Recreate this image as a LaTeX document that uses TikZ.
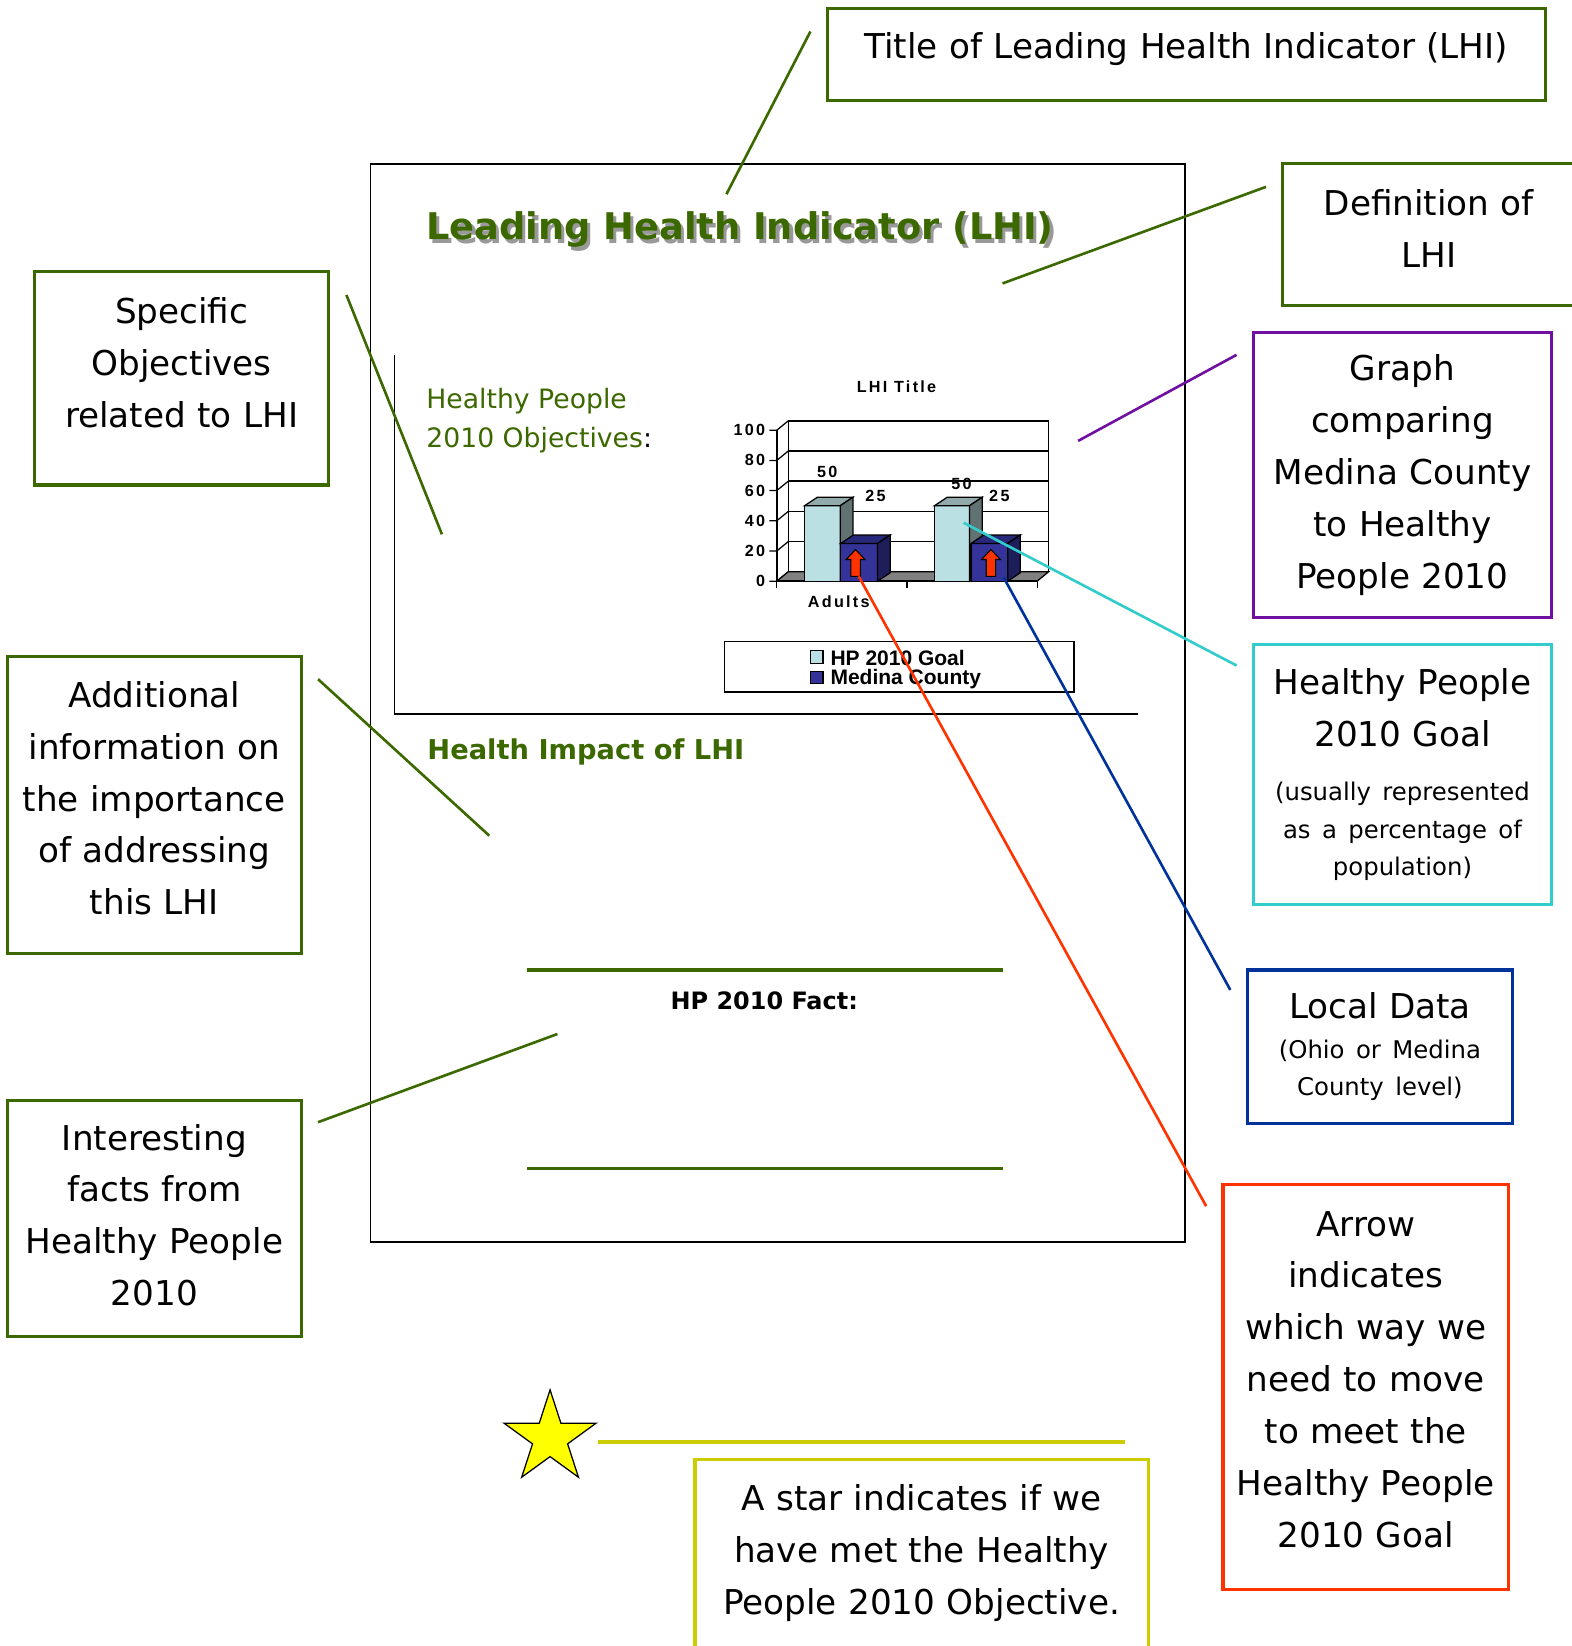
\documentclass[tikz,border=0pt]{standalone}
\usepackage{fontspec}
\setmainfont{DejaVu Sans}
\newfontfamily\chartfont[LetterSpace=14]{Liberation Sans}
\newfontfamily\legendfont{Liberation Sans}
\usetikzlibrary{shapes.geometric}

\definecolor{lhigreen}{RGB}{60,104,0}
\definecolor{lhipurple}{RGB}{112,16,160}
\definecolor{lhicyan}{RGB}{51,204,204}
\definecolor{lhiblue}{RGB}{0,51,153}
\definecolor{lhired}{RGB}{255,51,0}
\definecolor{lhiyellow}{RGB}{204,204,0}
\definecolor{staryellow}{RGB}{255,255,0}
\definecolor{hpfront}{RGB}{186,224,228}
\definecolor{hptop}{RGB}{146,170,170}
\definecolor{hpside}{RGB}{96,114,114}
\definecolor{mcfront}{RGB}{51,51,153}
\definecolor{mctop}{RGB}{40,40,122}
\definecolor{mcside}{RGB}{30,30,90}

\newcommand\bigf{\fontsize{32.6}{49.4}\selectfont}
\newcommand\smallf{\fontsize{23.2}{35.5}\selectfont}
\newcommand\titlef{\bfseries\fontsize{35}{42}\selectfont}
\newcommand\impactf{\bfseries\fontsize{26}{31}\selectfont}
\newcommand\objf{\fontsize{25.4}{37}\selectfont}
\newcommand\factf{\bfseries\fontsize{22.8}{27}\selectfont}
\newcommand\chartf{\chartfont\bfseries\fontsize{15.4}{18}\selectfont}
\newcommand\legf{\legendfont\bfseries\fontsize{20}{19}\selectfont}
\newcommand\lift[1]{\par\vspace{#1}\hrule height 0pt\relax}

\begin{document}
\begin{tikzpicture}[x=1pt,y=-1pt,
  box/.style={draw,line width=3pt,align=center,inner sep=0pt,font=\bigf},
  lead/.style={line width=2.5pt},
  txt/.style={inner sep=0pt},
  ctxt/.style={inner sep=0pt,font=\chartf},
  cline/.style={line width=1.2pt}]
\useasboundingbox (0,0) rectangle (1497,1568);

% the page
\node[draw,line width=1.5pt,minimum width=776pt,minimum height=1027pt,inner sep=0pt] (page) at (741,669.5) {};
\node[txt,font=\titlef,text=black!40] (ptitleshadow) at (708,222) {Leading Health Indicator (LHI)};
\node[txt,font=\titlef,text=lhigreen] (ptitle) at (705,219) {Leading Health Indicator (LHI)};
\coordinate (secA) at (376,338);
\coordinate (secB) at (376,680);
\coordinate (secC) at (1084,680);
\draw[line width=1.5pt] (secA) -- (secB) -- (secC);
\node[txt,anchor=west,align=left,font=\objf,text=lhigreen] (objtxt) at (406,401) {Healthy People\\2010 Objectives\textcolor{black}{:}};
\node[txt,anchor=west,font=\impactf,text=lhigreen] (impact) at (407,716) {Health Impact of LHI};
\coordinate (factTL) at (502,924);
\coordinate (factTR) at (955,924);
\coordinate (factBL) at (502,1113);
\coordinate (factBR) at (955,1113);
\draw[lhigreen,line width=3pt] (factTL) -- (factTR);
\draw[lhigreen,line width=3pt] (factBL) -- (factBR);
\node[txt,font=\factf] (fact) at (728,953) {HP 2010 Fact:};
\node[star,star points=5,star point ratio=2.618,minimum size=92pt,inner sep=0pt,draw,line width=1.2pt,fill=staryellow] (star) at (524,1370) {};

% chart
\fill[white] (751,400.8) rectangle (999,544.6);
\foreach \v in {20,40,60,80}
  \draw[cline] (751,{544.6-1.438*\v}) -- (999,{544.6-1.438*\v});
\draw[line width=1.5pt] (751,400.8) rectangle (999,544.6);
\foreach \v in {0,20,...,100}
  \draw[cline] (733,{553.6-1.438*\v}) -- (740,{553.6-1.438*\v}) -- (751,{544.6-1.438*\v});
\filldraw[fill=black!50,cline] (740,553.6) -- (988,553.6) -- (999,544.6) -- (751,544.6) -- cycle;
\draw[line width=1.5pt] (740,409.8) -- (740,553.6) -- (988,553.6);
\foreach \x in {740,864,988}
  \draw[cline] (\x,553.6) -- (\x,560);
\foreach \xa/\xb/\v/\cf/\ct/\cs in {766.5/800.5/50/hpfront/hptop/hpside,801/836/25/mcfront/mctop/mcside,890.3/923.6/50/hpfront/hptop/hpside,925/960/25/mcfront/mctop/mcside}{
  \pgfmathsetmacro\yt{553.6-1.438*\v}
  \filldraw[fill=\cf,cline] (\xa,553.6) rectangle (\xb,\yt);
  \filldraw[fill=\ct,cline] (\xa,\yt) -- (\xb,\yt) -- ({\xb+12},{\yt-8}) -- ({\xa+12},{\yt-8}) -- cycle;
  \filldraw[fill=\cs,cline] (\xb,553.6) -- ({\xb+12},545.6) -- ({\xb+12},{\yt-8}) -- (\xb,\yt) -- cycle;
}
\foreach \cx in {815,944}
  \filldraw[fill=lhired,line width=1pt] (\cx,523.5) -- ({\cx+9},533) -- ({\cx+4.5},533) -- ({\cx+4.5},549) -- ({\cx-4.5},549) -- ({\cx-4.5},533) -- ({\cx-9},533) -- cycle;
\foreach \v in {0,20,...,100}
  \node[ctxt,anchor=east] (tick\v) at (729,{553.6-1.438*\v}) {\v};
\node[ctxt] (lblA) at (788,449.5) {50};
\node[ctxt] (lblB) at (834,472.6) {25};
\node[ctxt] (lblC) at (916,461) {50};
\node[ctxt] (lblD) at (952,472.6) {25};
\node[ctxt] (charttitle) at (854,368) {LHI Title};
\node[ctxt] (adults) at (799,573) {Adults};
\node[draw,line width=1.5pt,minimum width=333pt,minimum height=48pt,inner sep=0pt] (legend) at (856.5,635) {};
\node[draw,line width=1pt,fill=hpfront,minimum size=12pt,inner sep=0pt] (keyhp) at (778,626) {};
\node[txt,anchor=west,font=\legf] (keyhptxt) at (791,626.5) {HP 2010 Goal};
\node[draw,line width=1pt,fill=mcfront,minimum size=12pt,inner sep=0pt] (keymc) at (778,645.3) {};
\node[txt,anchor=west,font=\legf] (keymctxt) at (791,646.8) {Medina County};

% call-out boxes
\node[box,draw=lhigreen,text width=684pt,minimum height=88pt] (titlebox) at (1130,52) {Title of Leading Health Indicator (LHI)\lift{10pt}};
\node[box,draw=lhigreen,text width=278pt,minimum height=135pt] (defbox) at (1361,223.5) {Definition of\\LHI\lift{12pt}};
\node[box,draw=lhipurple,text width=284pt,minimum height=271pt] (graphbox) at (1336,452.5) {Graph\\comparing\\Medina County\\to Healthy\\People 2010};
\node[box,draw=lhicyan,text width=284pt,minimum height=248pt] (goalbox) at (1336,738) {Healthy People\\2010 Goal\par\vspace{16pt}\smallf (usually represented\\as a percentage of\\population)\par};
\node[box,draw=lhiblue,text width=253pt,minimum height=146pt] (localbox) at (1314.5,997) {Local Data\par\vspace{3pt}\smallf (Ohio or Medina\\County level)\par};
\node[box,draw=lhired,text width=272pt,minimum height=386pt] (arrowbox) at (1301,1321) {Arrow\\indicates\\which way we\\need to move\\to meet the\\Healthy People\\2010 Goal\lift{14pt}};
\node[box,draw=lhiyellow,text width=432pt,minimum height=185pt] (starbox) at (878,1482.5) {A star indicates if we\\have met the Healthy\\People 2010 Objective.\lift{6pt}};
\node[box,draw=lhigreen,text width=280pt,minimum height=203pt] (specbox) at (173,360.5) {Specific\\Objectives\\related to LHI\lift{30pt}};
\node[box,draw=lhigreen,text width=280pt,minimum height=283pt] (addbox) at (147,766.5) {Additional\\information on\\the importance\\of addressing\\this LHI\lift{12pt}};
\node[box,draw=lhigreen,text width=280pt,minimum height=225pt] (factbox) at (147,1160.5) {Interesting\\facts from\\Healthy People\\2010\lift{6pt}};

% leaders
\coordinate (titleA) at (772,30);   \coordinate (titleB) at (692,185);
\coordinate (defA) at (1206,178);   \coordinate (defB) at (955,270);
\coordinate (specA) at (330,281);   \coordinate (specB) at (421,509);
\coordinate (addA) at (303,647);    \coordinate (addB) at (466,796);
\coordinate (factA) at (303,1069);  \coordinate (factB) at (531,985);
\coordinate (graphA) at (1178,338); \coordinate (graphB) at (1027,420);
\coordinate (goalA) at (1178,634);  \coordinate (goalB) at (918,498);
\coordinate (localA) at (1172,943); \coordinate (localB) at (956,550);
\coordinate (arrowA) at (1149,1149); \coordinate (arrowB) at (818,549);
\coordinate (starA) at (570,1374);  \coordinate (starB) at (1072,1374);
\draw[lead,lhigreen] (titleA) -- (titleB);
\draw[lead,lhigreen] (defA) -- (defB);
\draw[lead,lhigreen] (specA) -- (specB);
\draw[lead,lhigreen] (addA) -- (addB);
\draw[lead,lhigreen] (factA) -- (factB);
\draw[lead,lhipurple] (graphA) -- (graphB);
\draw[lead,lhicyan] (goalA) -- (goalB);
\draw[lead,lhiblue] (localA) -- (localB);
\draw[lead,lhired] (arrowA) -- (arrowB);
\draw[lhiyellow,line width=4pt] (starA) -- (starB);
\end{tikzpicture}
\end{document}
